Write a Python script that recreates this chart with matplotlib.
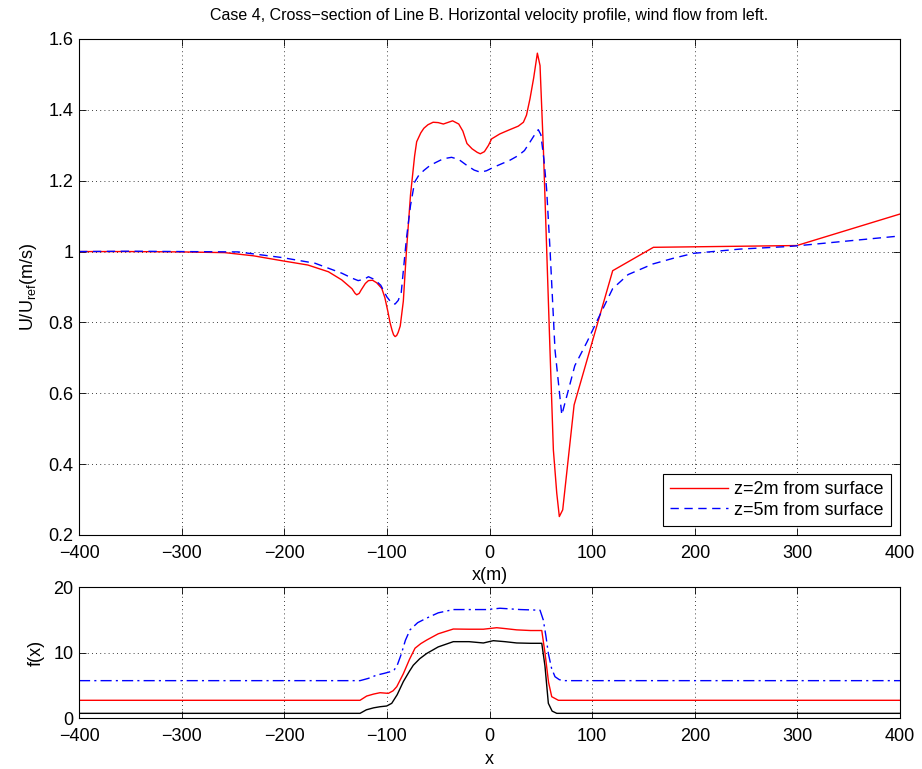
import matplotlib
matplotlib.use("Agg")
import matplotlib.pyplot as plt
from matplotlib.ticker import MultipleLocator

plt.rcParams['font.family'] = ['Liberation Sans', 'DejaVu Sans']
plt.rcParams['mathtext.fontset'] = 'custom'
plt.rcParams['mathtext.rm'] = 'Liberation Sans'
plt.rcParams['mathtext.it'] = 'Liberation Sans:italic'

# ---------------- data: top panel ----------------
x_z2 = [-400, -350, -300, -258, -230, -202, -177, -157, -144, -134, -131, -129.4, -127, -125,
        -121, -118, -114, -110, -105, -102, -99, -97, -95, -93.5, -92, -90.5, -89, -87, -84, -81, -77, -73, -71,
        -67, -64, -60, -55, -50, -45, -40, -36, -30, -26, -22, -17, -12, -9, -5,
        -1, 2, 6, 10, 18, 28, 33, 36, 39.4, 43, 46.6, 49.2, 52.5, 55.7, 58.9,
        62.2, 65.5, 68, 71.3, 82.4, 120, 159.7, 299.4, 400]
u_z2 = [1.000, 1.000, 0.999, 0.997, 0.988, 0.974, 0.962, 0.943, 0.920, 0.895, 0.882, 0.878, 0.882, 0.892,
        0.910, 0.918, 0.919, 0.912, 0.896, 0.870, 0.830, 0.800, 0.778, 0.765, 0.760, 0.763, 0.772, 0.790, 0.860, 1.000, 1.160, 1.270, 1.310,
        1.335, 1.348, 1.358, 1.365, 1.364, 1.360, 1.365, 1.369, 1.360, 1.340, 1.305, 1.290, 1.280, 1.276, 1.282,
        1.300, 1.318, 1.325, 1.332, 1.342, 1.354, 1.365, 1.385, 1.431, 1.490, 1.560, 1.525, 1.287, 1.004, 0.722,
        0.440, 0.318, 0.252, 0.271, 0.567, 0.946, 1.012, 1.017, 1.106]

x_z5 = [-400, -350, -300, -245, -202, -170, -144, -134, -128, -122, -118, -112,
        -106, -100, -95, -92, -89, -86, -81, -77, -73, -69, -64, -58, -52, -45, -37,
        -30, -22, -15, -9, -3, 4, 12, 20, 28, 34, 39.4, 44, 47.5, 50, 53, 55.6, 58.9,
        63.8, 70.4, 76, 83.1, 95, 104.2, 119.9, 135, 159.2, 179, 198.7, 244, 290, 302.6, 400]
u_z5 = [1.000, 1.001, 1.000, 0.999, 0.983, 0.967, 0.939, 0.925, 0.918, 0.922, 0.929, 0.921,
        0.905, 0.872, 0.853, 0.852, 0.862, 0.885, 1.036, 1.130, 1.196, 1.215, 1.229, 1.243, 1.252, 1.262, 1.266,
        1.260, 1.243, 1.230, 1.224, 1.228, 1.238, 1.248, 1.258, 1.271, 1.285, 1.309, 1.330, 1.344, 1.330, 1.260, 1.177, 1.008,
        0.722, 0.539, 0.600, 0.678, 0.745, 0.801, 0.895, 0.935, 0.965, 0.981, 0.995, 1.007, 1.014, 1.017, 1.044]

# ---------------- data: bottom panel ----------------
x_f1 = [-400, -126.2, -120, -113, -106.7, -100.2, -95.3, -90, -84, -78, -74.3, -68,
        -61.2, -50, -35.3, -20, -6, 3.7, 15, 26.5, 40, 50.9, 54, 57.3, 61, 65.5, 400]
f_1 = [0.76, 0.76, 1.3, 1.6, 1.77, 1.88, 2.29, 3.6, 5.6, 7.2, 8.1, 9.1,
       9.9, 10.9, 11.7, 11.7, 11.5, 11.85, 11.7, 11.5, 11.45, 11.45, 8.0, 2.29, 1.1, 0.76, 0.76]

x_f2 = [-400, -126.2, -119.7, -113, -106.7, -98.6, -94, -90.4, -84, -78, -72.6, -67,
        -61.2, -50, -35.3, -20, -6, 7, 15, 26.5, 40, 50.9, 54, 57.5, 60.6, 67.1, 400]
f_2 = [2.75, 2.75, 3.4, 3.7, 3.91, 3.81, 4.2, 4.83, 6.8, 9.0, 10.7, 11.4,
       11.95, 12.9, 13.63, 13.6, 13.6, 13.83, 13.7, 13.5, 13.4, 13.4, 10.0, 5.5, 3.3, 2.75, 2.75]

x_f3 = [-400, -126.2, -118, -109.9, -103, -97, -93, -90.4, -86, -82, -77.5, -70,
        -61.2, -50, -35.3, -20, -2.7, 10.2, 30, 49.2, 52.4, 55, 57.3, 60.5, 63.8, 68, 71.9, 400]
f_3 = [5.75, 5.75, 6.1, 6.6, 6.85, 7.1, 7.4, 7.9, 9.8, 11.9, 13.5, 14.6,
       15.3, 16.1, 16.6, 16.6, 16.6, 16.8, 16.6, 16.5, 15.0, 12.5, 9.9, 7.6, 6.35, 5.9, 5.75, 5.75]

title = "Case 4, Cross\u2212section of Line B. Horizontal velocity profile, wind flow from left."
legend_labels = ["z=2m from surface", "z=5m from surface"]
u_ticks = [0.2, 0.4, 0.6, 0.8, 1.0, 1.2, 1.4, 1.6]
u_ticklabels = ['0.2', '0.4', '0.6', '0.8', '1', '1.2', '1.4', '1.6']

# ---------------- figure ----------------
fs = 13
fig = plt.figure(figsize=(9.22, 7.69), dpi=100)
ax1 = fig.add_axes([0.0857, 0.3043, 0.8905, 0.6450])
ax2 = fig.add_axes([0.0857, 0.0659, 0.8905, 0.1704])

grid_kw = dict(color='black', linestyle=(0, (1, 4)), linewidth=0.6)

def style(ax):
    ax.tick_params(which='both', direction='in', top=True, right=True, labelsize=fs,
                   width=0.6, length=5)
    ax.tick_params(axis='x', pad=7)
    ax.tick_params(axis='y', pad=4)
    ax.grid(True, which='major', **grid_kw)
    for s in ax.spines.values():
        s.set_linewidth(0.8)

ax1.plot(x_z2, u_z2, color='#ff0000', linewidth=1.0, label=legend_labels[0])
ax1.plot(x_z5, u_z5, color='#0000ff', linewidth=1.0, linestyle=(0, (6, 4)), label=legend_labels[1])
ax1.set_xlim(-400, 400)
ax1.set_ylim(0.2, 1.6)
ax1.xaxis.set_major_locator(MultipleLocator(100))
ax1.set_yticks(u_ticks)
ax1.set_yticklabels(u_ticklabels)
style(ax1)
ax1.set_title(title, fontsize=11.5, pad=14)
ax1.set_xlabel("x(m)", fontsize=fs, labelpad=4)
ax1.set_ylabel(r"U/U$_{\mathrm{ref}}$(m/s)", fontsize=fs, labelpad=7)
leg = ax1.legend(loc='lower right', fontsize=fs, frameon=True, fancybox=False,
                 edgecolor='black', framealpha=1, borderpad=0.4, labelspacing=0.2,
                 handlelength=3.2, handletextpad=0.35, borderaxespad=0.5)
leg.get_frame().set_linewidth(0.8)

ax2.plot(x_f1, f_1, color='black', linewidth=1.0)
ax2.plot(x_f2, f_2, color='#ff0000', linewidth=1.0)
ax2.plot(x_f3, f_3, color='#0000ff', linewidth=1.0, linestyle=(0, (8, 3, 1.5, 3)))
ax2.set_xlim(-400, 400)
ax2.set_ylim(0, 20)
ax2.xaxis.set_major_locator(MultipleLocator(100))
ax2.yaxis.set_major_locator(MultipleLocator(10))
style(ax2)
ax2.set_xlabel("x", fontsize=fs, labelpad=4)
ax2.set_ylabel("f(x)", fontsize=fs, labelpad=6)

fig.savefig("out.png", dpi=100)
